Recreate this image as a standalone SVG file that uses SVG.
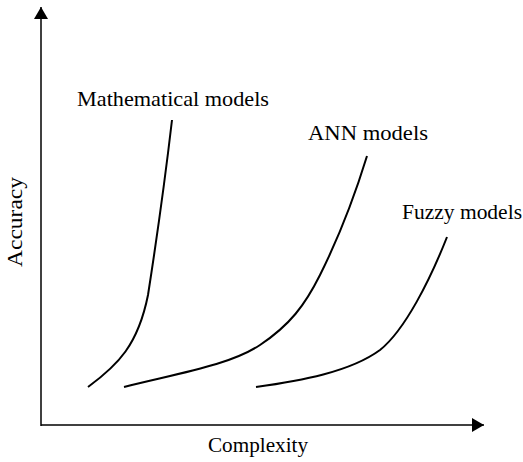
<svg xmlns="http://www.w3.org/2000/svg" width="523" height="462" viewBox="0 0 523 462">
  <style>
    .axis { stroke: #000; stroke-width: 1.5; fill: none; }
    .curve { stroke: #000; stroke-width: 2; fill: none; stroke-linecap: butt; }
    .lbl { font-family: "Liberation Serif", "Times New Roman", serif; font-size: 21px; fill: #000; }
  </style>
  <defs>
    <marker id="arrow" viewBox="0 0 12 14" refX="12" refY="7" markerWidth="12" markerHeight="14" markerUnits="userSpaceOnUse" orient="auto">
      <path d="M0,0 L12,7 L0,14 Z" fill="#000"/>
    </marker>
  </defs>
  <rect width="523" height="462" fill="#fff"/>

  <g id="axes">
    <path class="axis" d="M41,426 L41,7" marker-end="url(#arrow)"/>
    <path class="axis" d="M41,425 L484,425" marker-end="url(#arrow)"/>
    <text class="lbl" x="258" y="452" text-anchor="middle" textLength="100" lengthAdjust="spacingAndGlyphs">Complexity</text>
    <text class="lbl" transform="translate(22,222) rotate(-90)" text-anchor="middle" textLength="90" lengthAdjust="spacingAndGlyphs">Accuracy</text>
  </g>

  <g id="curves">
    <g id="mathematical">
      <path class="curve" d="M88,387 C118,365 138,345 148,295 C155,250 165,180 172,120"/>
      <text class="lbl" x="77" y="106" textLength="192" lengthAdjust="spacingAndGlyphs">Mathematical models</text>
    </g>
    <g id="ann">
      <path class="curve" d="M124,387 C180,373 230,365 260,345 C290,325 305,305 320,275 C340,235 355,195 367,156"/>
      <text class="lbl" x="308" y="140" textLength="120" lengthAdjust="spacingAndGlyphs">ANN models</text>
    </g>
    <g id="fuzzy">
      <path class="curve" d="M256,387 C300,381 350,372 380,350 C405,330 430,280 447,237"/>
      <text class="lbl" x="402" y="219" textLength="120" lengthAdjust="spacingAndGlyphs">Fuzzy models</text>
    </g>
  </g>
</svg>
